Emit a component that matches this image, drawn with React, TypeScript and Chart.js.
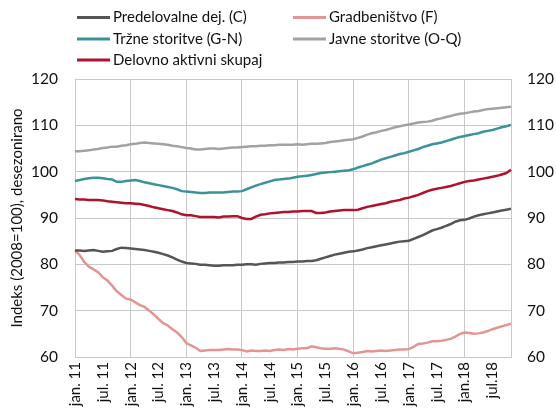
import React, { useEffect, useRef } from "react";
import { Chart, registerables } from "chart.js";

Chart.register(...registerables);

const monthNames = ["jan", "feb", "mar", "apr", "maj", "jun", "jul", "avg", "sep", "okt", "nov", "dec"];
const years = ["11", "12", "13", "14", "15", "16", "17", "18"];
const tickLabels = [
  "jan. 11", "jul. 11", "jan. 12", "jul. 12", "jan. 13", "jul. 13", "jan. 14", "jul. 14",
  "jan. 15", "jul. 15", "jan. 16", "jul. 16", "jan. 17", "jul. 17", "jan.18", "jul.18",
];

const predelovalne = [
  83.0, 83.0, 82.9, 83.0, 83.1, 82.9, 82.7, 82.8, 82.9, 83.3, 83.6, 83.5,
  83.4, 83.3, 83.2, 83.1, 82.9, 82.7, 82.5, 82.2, 81.9, 81.5, 81.0, 80.6,
  80.3, 80.2, 80.1, 79.9, 79.9, 79.8, 79.7, 79.7, 79.8, 79.8, 79.8, 79.9,
  79.9, 80.0, 80.0, 79.9, 80.1, 80.2, 80.3, 80.3, 80.4, 80.4, 80.5, 80.5,
  80.6, 80.6, 80.7, 80.7, 80.9, 81.2, 81.5, 81.8, 82.1, 82.3, 82.5, 82.7,
  82.8, 83.0, 83.2, 83.5, 83.7, 83.9, 84.1, 84.3, 84.5, 84.7, 84.9, 85.0,
  85.1, 85.5, 85.9, 86.3, 86.8, 87.3, 87.6, 87.9, 88.3, 88.7, 89.2, 89.5,
  89.6, 89.9, 90.3, 90.6, 90.8, 91.0, 91.2, 91.4, 91.6, 91.8, 92.0,
];

const gradbenistvo = [
  83.0, 82.0, 80.5, 79.5, 78.9, 78.3, 77.2, 76.5, 75.4, 74.2, 73.4, 72.6,
  72.4, 71.8, 71.2, 70.8, 70.0, 69.2, 68.2, 67.3, 66.8, 66.0, 65.3, 64.3,
  63.0, 62.5, 62.0, 61.3, 61.4, 61.5, 61.5, 61.5, 61.6, 61.7, 61.6, 61.6,
  61.5, 61.2, 61.4, 61.3, 61.3, 61.4, 61.3, 61.5, 61.6, 61.5, 61.7, 61.6,
  61.8, 61.9, 61.9, 62.3, 62.1, 61.9, 61.8, 61.8, 61.9, 61.8, 61.6, 61.2,
  60.8, 60.9, 61.1, 61.3, 61.2, 61.3, 61.4, 61.3, 61.4, 61.5, 61.6, 61.6,
  61.7, 62.2, 62.8, 62.9, 63.1, 63.4, 63.4, 63.5, 63.7, 63.9, 64.4, 65.0,
  65.3, 65.2, 65.0, 65.1, 65.3, 65.6, 66.0, 66.3, 66.6, 66.9, 67.2,
];

const trzne = [
  98.0, 98.2, 98.4, 98.6, 98.7, 98.7, 98.6, 98.4, 98.3, 97.8, 97.8, 98.0,
  98.1, 98.2, 98.0, 97.7, 97.5, 97.3, 97.1, 96.9, 96.7, 96.5, 96.2, 95.8,
  95.7, 95.6, 95.5, 95.4, 95.4, 95.5, 95.5, 95.5, 95.5, 95.6, 95.7, 95.7,
  95.8, 96.2, 96.6, 97.0, 97.3, 97.6, 97.9, 98.2, 98.3, 98.4, 98.5, 98.7,
  98.9, 99.0, 99.1, 99.3, 99.5, 99.7, 99.8, 99.9, 100.0, 100.1, 100.2, 100.3,
  100.5, 100.9, 101.2, 101.5, 101.8, 102.2, 102.6, 102.9, 103.2, 103.5, 103.8, 104.0,
  104.3, 104.6, 104.9, 105.3, 105.6, 105.9, 106.1, 106.3, 106.6, 106.9, 107.2, 107.5,
  107.7, 107.9, 108.1, 108.3, 108.6, 108.8, 109.0, 109.3, 109.6, 109.8, 110.1,
];

const javne = [
  104.4, 104.4, 104.5, 104.6, 104.8, 104.9, 105.1, 105.2, 105.4, 105.4, 105.6, 105.7,
  105.9, 106.0, 106.2, 106.3, 106.2, 106.1, 106.0, 105.9, 105.8, 105.6, 105.5, 105.3,
  105.1, 105.0, 104.8, 104.8, 104.9, 105.0, 105.0, 104.9, 105.0, 105.1, 105.2, 105.2,
  105.3, 105.4, 105.5, 105.5, 105.6, 105.6, 105.7, 105.7, 105.8, 105.8, 105.8, 105.8,
  105.9, 105.8, 105.9, 106.0, 106.0, 106.1, 106.2, 106.4, 106.5, 106.6, 106.8, 106.9,
  107.0, 107.3, 107.6, 108.0, 108.3, 108.5, 108.8, 109.0, 109.3, 109.6, 109.8, 110.0,
  110.2, 110.4, 110.6, 110.7, 110.8, 111.0, 111.3, 111.5, 111.8, 112.0, 112.3, 112.5,
  112.6, 112.8, 113.0, 113.1, 113.3, 113.5, 113.6, 113.7, 113.8, 113.9, 114.0,
];

const delovno = [
  94.1, 94.0, 94.0, 93.9, 93.9, 93.9, 93.8, 93.6, 93.5, 93.4, 93.3, 93.2,
  93.2, 93.1, 93.0, 92.8, 92.6, 92.3, 92.1, 91.9, 91.7, 91.5, 91.2, 90.8,
  90.6, 90.6, 90.4, 90.2, 90.2, 90.2, 90.2, 90.1, 90.3, 90.3, 90.4, 90.4,
  90.0, 89.8, 89.8, 90.3, 90.7, 90.8, 91.0, 91.1, 91.2, 91.3, 91.3, 91.4,
  91.4, 91.5, 91.5, 91.5, 91.1, 91.1, 91.2, 91.4, 91.5, 91.6, 91.7, 91.7,
  91.7, 91.8, 92.1, 92.4, 92.6, 92.8, 93.0, 93.2, 93.5, 93.7, 93.9, 94.2,
  94.4, 94.7, 95.0, 95.4, 95.8, 96.1, 96.3, 96.5, 96.7, 96.9, 97.2, 97.5,
  97.8, 98.0, 98.1, 98.3, 98.5, 98.7, 98.9, 99.1, 99.4, 99.7, 100.4,
];

const seriesNames = [
  "Predelovalne dej. (C)",
  "Gradbeništvo (F)",
  "Tržne storitve (G-N)",
  "Javne storitve (O-Q)",
  "Delovno aktivni skupaj",
];
const seriesColors = ["#555555", "#e39593", "#3a9399", "#a2a2a2", "#b0122c"];
const seriesData = [predelovalne, gradbenistvo, trzne, javne, delovno];

const categories: string[] = [];
years.forEach((y) => monthNames.forEach((m) => categories.push(m + ". " + y)));
const labels = categories.slice(0, predelovalne.length);

const FONT = "Lato";
const TEXT = "#111111";

const legendPlugin = {
  id: "gridLegend",
  afterDraw(chart: any) {
    const ctx = chart.ctx;
    const cols = [77, 293];
    const rows = [17.5, 39, 60];
    ctx.save();
    ctx.font = `15px ${FONT}`;
    ctx.textBaseline = "middle";
    ctx.textAlign = "left";
    chart.data.datasets.forEach((ds: any, i: number) => {
      const x = cols[i % 2];
      const y = rows[Math.floor(i / 2)];
      ctx.strokeStyle = ds.borderColor;
      ctx.lineWidth = 3;
      ctx.beginPath();
      ctx.moveTo(x, y);
      ctx.lineTo(x + 33, y);
      ctx.stroke();
      ctx.fillStyle = TEXT;
      ctx.fillText(ds.label, x + 36, y);
    });
    ctx.restore();
  },
};

export default function App() {
  const ref = useRef<HTMLCanvasElement | null>(null);
  useEffect(() => {
    if (!ref.current) return;
    const gridColor = "#c9c9c9";
    const chart = new Chart(ref.current, {
      type: "line",
      data: {
        labels,
        datasets: seriesData.map((d, i) => ({
          label: seriesNames[i],
          data: d,
          borderColor: seriesColors[i],
          backgroundColor: seriesColors[i],
          borderWidth: 2.5,
          pointRadius: 0,
          tension: 0,
          yAxisID: "y",
        })),
      },
      options: {
        animation: false,
        responsive: false,
        maintainAspectRatio: false,
        layout: { padding: { top: 79, left: 8, right: 0, bottom: 0 } },
        plugins: { legend: { display: false }, tooltip: { enabled: false } },
        scales: {
          x: {
            type: "category",
            offset: false,
            grid: {
              drawTicks: false,
              color: (c: any) => (c.index % 12 === 0 ? gridColor : "rgba(0,0,0,0)"),
              lineWidth: 1,
            },
            border: { color: gridColor },
            ticks: {
              autoSkip: false,
              maxRotation: 90,
              minRotation: 90,
              padding: 5,
              color: TEXT,
              font: { family: FONT, size: 15 },
              callback: (_v: any, idx: number) => (idx % 6 === 0 ? tickLabels[idx / 6] : ""),
            },
            afterFit: (s: any) => {
              s.height = 57;
            },
          },
          y: {
            position: "left",
            min: 60,
            max: 120,
            grid: { color: gridColor, drawTicks: false, lineWidth: 1 },
            border: { color: gridColor },
            ticks: {
              stepSize: 10,
              padding: 17,
              color: TEXT,
              font: { family: FONT, size: 15.5 },
            },
            title: {
              display: true,
              text: "Indeks (2008=100), desezonirano",
              color: TEXT,
              font: { family: FONT, size: 15 },
              padding: { top: 0, bottom: 0 },
            },
            afterFit: (s: any) => {
              s.width = 67;
            },
          },
          y2: {
            position: "right",
            min: 60,
            max: 120,
            grid: { display: false, drawTicks: false },
            border: { color: gridColor },
            ticks: {
              stepSize: 10,
              padding: 16,
              color: TEXT,
              font: { family: FONT, size: 15.5 },
            },
            afterFit: (s: any) => {
              s.width = 45;
            },
          },
        },
      },
      plugins: [legendPlugin],
    });
    return () => chart.destroy();
  }, []);
  return (
    <div style={{ position: "absolute", left: 0, top: 0, width: 556, height: 414 }}>
      <canvas ref={ref} width={556} height={414} style={{ display: "block" }} />
    </div>
  );
}
